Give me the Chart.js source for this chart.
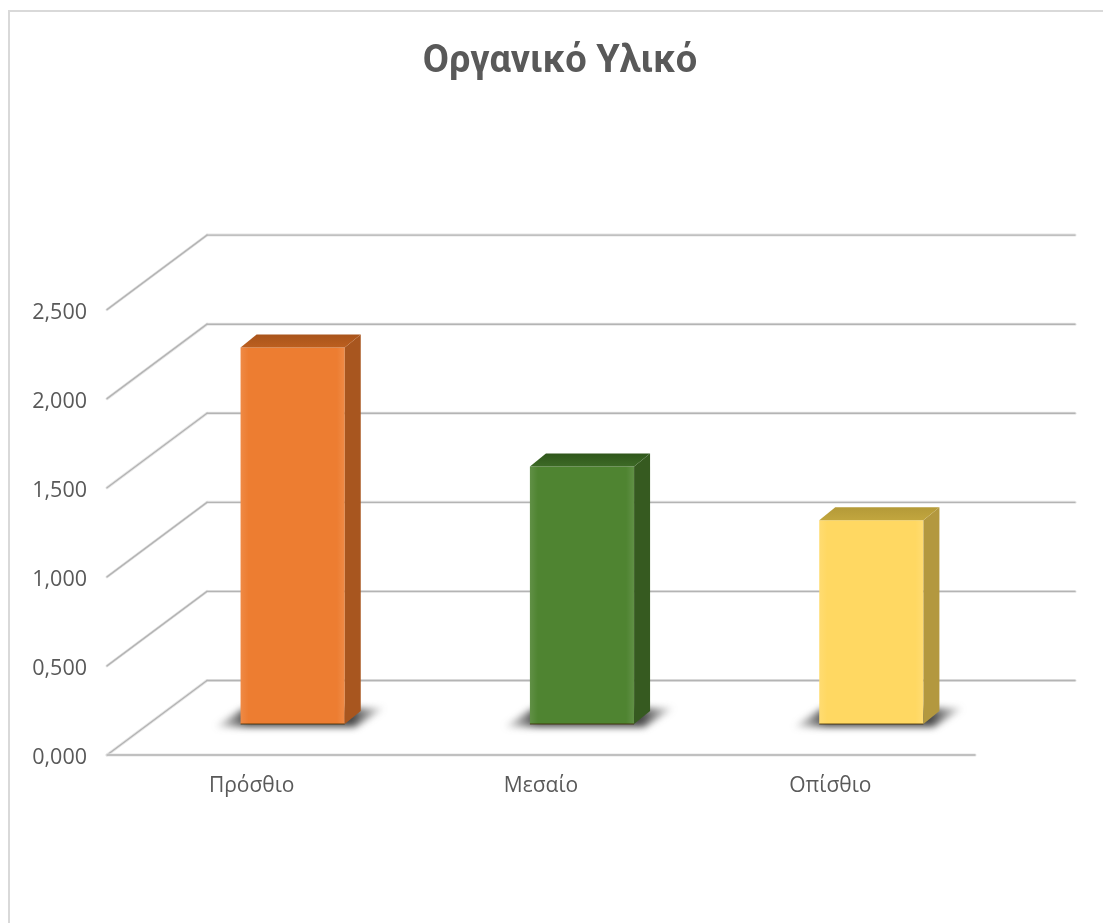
<!DOCTYPE html>
<html>
<head>
<meta charset="utf-8">
<title>Οργανικό Υλικό</title>
<style>
    html, body { margin: 0; padding: 0; background: #fff; }
    #wrap { width: 1103px; height: 923px; position: relative; overflow: hidden; }
</style>
</head>
<body>
<div id="wrap"><canvas id="organicChart" width="1103" height="923"></canvas></div>
<script src="https://cdn.jsdelivr.net/npm/chart.js@4"></script>
<script>
const categories = ['Πρόσθιο', 'Μεσαίο', 'Οπίσθιο'];
const values = [2.113, 1.446, 1.143];
const tickLabels = ['0,000', '0,500', '1,000', '1,500', '2,000', '2,500'];
const tickValues = [0, 0.5, 1, 1.5, 2, 2.5];
const frontColors = ['#ed7d31', '#4f8431', '#ffd862'];
const sideColors = ['#a8561f', '#365a20', '#b3983f'];
const topColors = ['#bc5f1f', '#3d6a26', '#c2a63e'];
const backTopColors = ['#a9541b', '#2f561b', '#b49a38'];

// depth of the 3D box: back wall offset, bar offset, bar thickness
const WALL_DX = 100, WALL_DY = -74.5;
const BAR_DX = 41, BAR_DY = -31;
const SIDE_DX = 16, SIDE_DY = -13;
const GRID_COLOR = '#b4b4b4';

function line(ctx, x1, y1, x2, y2) {
    ctx.beginPath();
    ctx.moveTo(x1, y1);
    ctx.lineTo(x2, y2);
    ctx.stroke();
}

function poly(ctx, pts, fill) {
    ctx.beginPath();
    pts.forEach((p, i) => i ? ctx.lineTo(p[0], p[1]) : ctx.moveTo(p[0], p[1]));
    ctx.closePath();
    ctx.fillStyle = fill;
    ctx.fill();
}

// walls, floor and the page frame
const wallPlugin = {
    id: 'wall',
    beforeDatasetsDraw(chart) {
        const ctx = chart.ctx;
        const { left, right } = chart.chartArea;
        const y = chart.scales.y;
        ctx.save();
        ctx.strokeStyle = '#d9d9d9';
        ctx.lineWidth = 2;
        line(ctx, 9, 11, 1103, 11);
        line(ctx, 9, 10, 9, 923);
        ctx.lineCap = 'round';
        tickValues.forEach(v => {
            const py = y.getPixelForValue(v);
            ctx.strokeStyle = '#e6e6e6';
            ctx.lineWidth = 3;
            line(ctx, left, py, left + WALL_DX, py + WALL_DY);
            line(ctx, left + WALL_DX, py + WALL_DY, right + WALL_DX, py + WALL_DY);
            ctx.strokeStyle = GRID_COLOR;
            ctx.lineWidth = 1.4;
            line(ctx, left, py, left + WALL_DX, py + WALL_DY);
            line(ctx, left + WALL_DX, py + WALL_DY, right + WALL_DX, py + WALL_DY);
        });
        const y0 = y.getPixelForValue(0);
        ctx.strokeStyle = '#e6e6e6';
        ctx.lineWidth = 3;
        line(ctx, left, y0, right, y0);
        ctx.strokeStyle = GRID_COLOR;
        ctx.lineWidth = 1.4;
        line(ctx, left, y0, right, y0);
        ctx.restore();

        // floor shadows, fading towards both tips
        const bars = chart.getDatasetMeta(0).data;
        ctx.save();
        ctx.filter = 'blur(3.5px)';
        bars.forEach(bar => {
            const l = bar.x - bar.width / 2 + BAR_DX, r = bar.x + bar.width / 2 + BAR_DX, b = bar.base + BAR_DY;
            const g = ctx.createLinearGradient(l - 28, 0, r + 42, 0);
            g.addColorStop(0, 'rgba(70,70,70,0)');
            g.addColorStop(0.2, 'rgba(60,60,60,0.95)');
            g.addColorStop(0.8, 'rgba(60,60,60,0.95)');
            g.addColorStop(1, 'rgba(70,70,70,0)');
            poly(ctx, [[l - 26, b + 3], [l + 2, b - 15], [r + 40, b - 16], [r + 10, b + 3]], g);
        });
        ctx.restore();

        ctx.save();
        ctx.translate(BAR_DX, BAR_DY);
    },
    afterDatasetsDraw(chart) {
        const ctx = chart.ctx;
        ctx.restore();
        const bars = chart.getDatasetMeta(0).data;
        ctx.save();
        bars.forEach((bar, i) => {
            const l = bar.x - bar.width / 2 + BAR_DX, r = bar.x + bar.width / 2 + BAR_DX;
            const t = bar.y + BAR_DY, b = bar.base + BAR_DY;
            poly(ctx, [[r, t], [r + SIDE_DX, t + SIDE_DY], [r + SIDE_DX, b + SIDE_DY], [r, b]], sideColors[i]);
            const g = ctx.createLinearGradient(0, t + SIDE_DY, 0, t);
            g.addColorStop(0, backTopColors[i]);
            g.addColorStop(1, topColors[i]);
            poly(ctx, [[l, t], [l + SIDE_DX, t + SIDE_DY], [r + SIDE_DX, t + SIDE_DY], [r, t]], g);
            // soft bevel along the front face
            const gl = ctx.createLinearGradient(l, 0, l + 8, 0);
            gl.addColorStop(0, 'rgba(255,255,255,0.10)');
            gl.addColorStop(1, 'rgba(255,255,255,0)');
            ctx.fillStyle = gl;
            ctx.fillRect(l, t, 8, b - t);
            const gr = ctx.createLinearGradient(r - 8, 0, r, 0);
            gr.addColorStop(0, 'rgba(255,255,255,0)');
            gr.addColorStop(1, 'rgba(255,255,255,0.10)');
            ctx.fillStyle = gr;
            ctx.fillRect(r - 8, t, 8, b - t);
            ctx.fillStyle = 'rgba(60,40,0,0.4)';
            ctx.fillRect(l, b - 1, r - l, 2);
        });
        ctx.restore();
    }
};

new Chart(document.getElementById('organicChart'), {
    type: 'bar',
    data: {
        labels: categories,
        datasets: [{
            data: values,
            backgroundColor: frontColors,
            borderWidth: 0,
            barPercentage: 0.36,
            categoryPercentage: 1,
            clip: false
        }]
    },
    options: {
        responsive: false,
        animation: false,
        layout: { padding: { left: 17 } },
        plugins: {
            legend: { display: false },
            tooltip: { enabled: false },
            title: {
                display: true,
                text: 'Οργανικό Υλικό',
                color: '#595959',
                font: { family: 'Roboto', size: 38, weight: 'bold' },
                padding: { top: 40, bottom: 224 }
            }
        },
        scales: {
            x: {
                grid: { display: false },
                border: { display: false },
                ticks: { color: '#595959', font: { family: '"Open Sans"', size: 21 }, padding: 10, maxRotation: 0 },
                afterFit(scale) { scale.height = 168; }
            },
            y: {
                min: 0,
                max: 2.5,
                grid: { display: false },
                border: { display: false },
                afterBuildTicks(scale) { scale.ticks = tickValues.map(v => ({ value: v })); },
                ticks: {
                    color: '#595959',
                    font: { family: '"Open Sans"', size: 21.5, lineHeight: '6px' },
                    padding: 12,
                    // empty first line pushes the label down a little, as in the original
                    callback: (v) => ['', tickLabels[tickValues.indexOf(v)]]
                },
                afterFit(scale) { scale.width = 90; }
            },
            // empty axis, keeps the room on the right for the back wall
            side: {
                position: 'right',
                grid: { display: false },
                border: { display: false },
                ticks: { display: false },
                afterFit(scale) { scale.width = 128; }
            }
        }
    },
    plugins: [wallPlugin]
});
</script>
</body>
</html>
